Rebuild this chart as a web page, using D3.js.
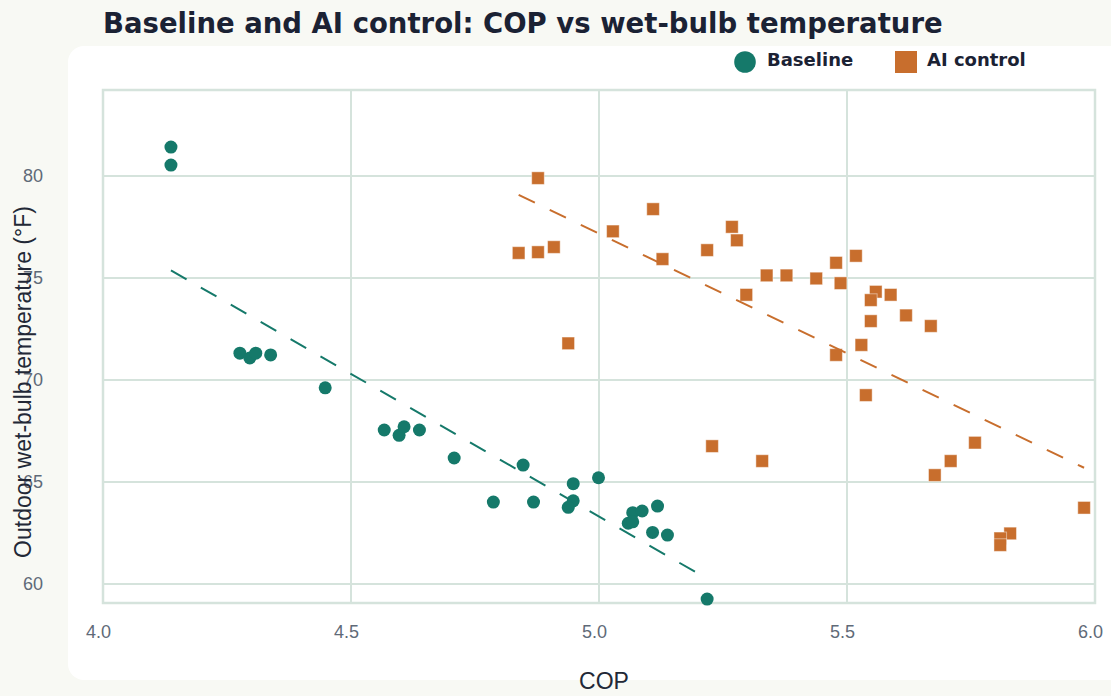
<!DOCTYPE html>
<html>
<head>
<meta charset="utf-8">
<script src="https://cdn.jsdelivr.net/npm/d3@7"></script>
<style>
  html, body { margin: 0; padding: 0; background: #f8f9f4; }
  svg { display: block; }
</style>
</head>
<body>
<script>
const wdth = 1111;
const hght = 696;

// data
const baselineCop = [4.137, 4.137, 4.276, 4.296, 4.308, 4.338, 4.448, 4.567, 4.597, 4.607,
  4.638, 4.708, 4.787, 4.847, 4.868, 4.948, 4.948, 4.938, 4.999, 5.068,
  5.087, 5.059, 5.068, 5.118, 5.108, 5.138, 5.218];
const baselineTemp = [81.42, 80.54, 71.32, 71.08, 71.32, 71.23, 69.62, 67.55, 67.29, 67.71,
  67.55, 66.18, 64.02, 65.83, 64.02, 64.92, 64.08, 63.76, 65.21, 63.50,
  63.58, 62.98, 63.05, 63.82, 62.53, 62.40, 59.26];

const aiCop = [4.877, 4.838, 4.877, 4.909, 4.938, 5.028, 5.109, 5.128, 5.218, 5.268,
  5.278, 5.297, 5.338, 5.378, 5.438, 5.478, 5.487, 5.518, 5.478, 5.529,
  5.558, 5.548, 5.588, 5.548, 5.619, 5.669, 5.538, 5.758, 5.709, 5.677,
  5.829, 5.809, 5.809, 5.978, 5.228, 5.329];
const aiTemp = [79.90, 76.23, 76.27, 76.52, 71.80, 77.29, 78.38, 75.93, 76.37, 77.51,
  76.85, 74.18, 75.13, 75.13, 74.98, 75.75, 74.75, 76.09, 71.23, 71.72,
  74.33, 73.92, 74.18, 72.89, 73.17, 72.65, 69.26, 66.93, 66.03, 65.34,
  62.48, 62.24, 61.91, 63.74, 66.76, 66.03];

// fitted trend lines (end points)
const baselineTrendCop = [4.137, 5.218];
const baselineTrendTemp = [75.38, 60.26];
const aiTrendCop = [4.838, 5.978];
const aiTrendTemp = [79.08, 65.70];

const xTicks = [4.0, 4.5, 5.0, 5.5, 6.0];
const yTicks = [60, 65, 70, 75, 80];
const seriesNames = ["Baseline", "AI control"];

const teal = "#15796a";
const orange = "#c86e2d";
const gridColor = "#d5e3dc";

const plot = { left: 103, right: 1095, top: 90, bottom: 603 };

const x = d3.scaleLinear().domain([4, 6]).range([plot.left, plot.right]);
const y = d3.scaleLinear().domain([59.07, 84.22]).range([plot.bottom, plot.top]);

const svg = d3
  .select("body")
  .append("svg")
  .attr("width", wdth)
  .attr("height", hght);

// card
svg
  .append("rect")
  .attr("x", 68)
  .attr("y", 46)
  .attr("width", wdth)
  .attr("height", 634)
  .attr("rx", 16)
  .attr("fill", "#ffffff");

svg
  .append("text")
  .text("Baseline and AI control: COP vs wet-bulb temperature")
  .attr("x", 103)
  .attr("y", 33)
  .attr("font-family", "DejaVu Sans")
  .attr("font-weight", "bold")
  .attr("font-size", "27.5px")
  .attr("fill", "#1b2234");

// grid
const grid = svg.append("g");
grid
  .selectAll(".vgrid")
  .data(xTicks)
  .enter()
  .append("line")
  .attr("x1", (d) => x(d))
  .attr("x2", (d) => x(d))
  .attr("y1", plot.top)
  .attr("y2", plot.bottom)
  .attr("stroke", gridColor)
  .attr("stroke-width", 2);
grid
  .selectAll(".hgrid")
  .data(yTicks)
  .enter()
  .append("line")
  .attr("x1", plot.left)
  .attr("x2", plot.right)
  .attr("y1", (d) => y(d))
  .attr("y2", (d) => y(d))
  .attr("stroke", gridColor)
  .attr("stroke-width", 2);
grid
  .append("rect")
  .attr("x", plot.left)
  .attr("y", plot.top)
  .attr("width", plot.right - plot.left)
  .attr("height", plot.bottom - plot.top)
  .attr("fill", "none")
  .attr("stroke", gridColor)
  .attr("stroke-width", 2.5);

// axes (labels only)
const xAxis = svg
  .append("g")
  .attr("transform", "translate(-5," + (plot.bottom + 19) + ")")
  .call(d3.axisBottom(x).tickValues(xTicks).tickFormat(d3.format(".1f")).tickSize(0));
const yAxis = svg
  .append("g")
  .attr("transform", "translate(43,0)")
  .call(d3.axisLeft(y).tickValues(yTicks).tickSize(0).tickPadding(0));

[xAxis, yAxis].forEach((g) => {
  g.select(".domain").remove();
  g.selectAll("text")
    .attr("font-family", "Liberation Sans")
    .attr("font-size", "18px")
    .attr("fill", "#5f6a78");
});

svg
  .append("text")
  .text("COP")
  .attr("x", 604)
  .attr("y", 689)
  .attr("text-anchor", "middle")
  .attr("font-family", "Liberation Sans")
  .attr("font-size", "23px")
  .attr("fill", "#222836");

svg
  .append("text")
  .text("Outdoor wet-bulb temperature (°F)")
  .attr("transform", "translate(31,382) rotate(-90)")
  .attr("text-anchor", "middle")
  .attr("font-family", "Liberation Sans")
  .attr("font-size", "23px")
  .attr("fill", "#222836");

// markers
svg
  .append("g")
  .selectAll("circle")
  .data(baselineCop)
  .enter()
  .append("circle")
  .attr("cx", (d) => x(d))
  .attr("cy", (d, i) => y(baselineTemp[i]))
  .attr("r", 6.5)
  .attr("fill", teal);

svg
  .append("g")
  .selectAll("rect")
  .data(aiCop)
  .enter()
  .append("rect")
  .attr("x", (d) => x(d) - 6.3)
  .attr("y", (d, i) => y(aiTemp[i]) - 6.3)
  .attr("width", 12.6)
  .attr("height", 12.6)
  .attr("fill", orange)
  .attr("stroke", "rgba(255,255,255,0.45)")
  .attr("stroke-width", 1);

// trend lines
const line = d3.line().x((d) => x(d[0])).y((d) => y(d[1]));
svg
  .append("path")
  .attr("d", line(d3.zip(baselineTrendCop, baselineTrendTemp)))
  .attr("fill", "none")
  .attr("stroke", teal)
  .attr("stroke-width", 2)
  .attr("stroke-dasharray", "18,16.5");
svg
  .append("path")
  .attr("d", line(d3.zip(aiTrendCop, aiTrendTemp)))
  .attr("fill", "none")
  .attr("stroke", orange)
  .attr("stroke-width", 2)
  .attr("stroke-dasharray", "18,16.5");

// legend
const legend = svg.append("g").attr("id", "legend");
legend
  .append("circle")
  .attr("cx", 745)
  .attr("cy", 62)
  .attr("r", 10.8)
  .attr("fill", teal);
legend
  .append("rect")
  .attr("x", 895)
  .attr("y", 51)
  .attr("width", 22)
  .attr("height", 22)
  .attr("fill", orange);
legend
  .selectAll("text")
  .data(seriesNames)
  .enter()
  .append("text")
  .text((d) => d)
  .attr("x", (d, i) => [767, 927][i])
  .attr("y", 66)
  .attr("font-family", "DejaVu Sans")
  .attr("font-weight", "bold")
  .attr("font-size", "18px")
  .attr("fill", "#1b2234");
</script>
</body>
</html>
